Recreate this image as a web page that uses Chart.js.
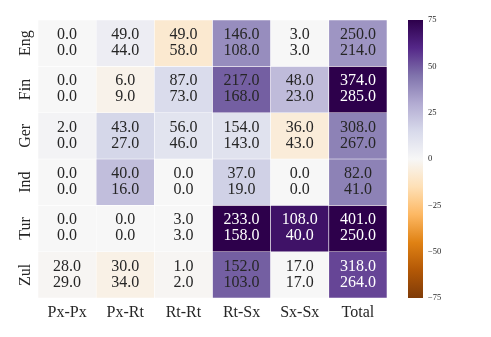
<!DOCTYPE html>
<html>
<head>
<meta charset="utf-8">
<script src="https://cdn.jsdelivr.net/npm/chart.js@4"></script>
<style>
  body { margin: 0; background: #fff; }
  #wrap { position: relative; width: 491px; height: 337px; }
  #main { position: absolute; left: 0; top: 0; width: 400px; height: 337px; }
  #bar { position: absolute; left: 400px; top: 0; width: 91px; height: 337px; }
</style>
</head>
<body>
<div id="wrap">
  <div id="main"><canvas id="heat"></canvas></div>
  <div id="bar"><canvas id="cbar"></canvas></div>
</div>
<script>
const rows = ["Eng", "Fin", "Ger", "Ind", "Tur", "Zul"];
const cols = ["Px-Px", "Px-Rt", "Rt-Rt", "Rt-Sx", "Sx-Sx", "Total"];

// upper number in each cell
const topVals = [
  [0, 49, 49, 146, 3, 250],
  [0, 6, 87, 217, 48, 374],
  [2, 43, 56, 154, 36, 308],
  [0, 40, 0, 37, 0, 82],
  [0, 0, 3, 233, 108, 401],
  [28, 30, 1, 152, 17, 318],
];
// lower number in each cell
const bottomVals = [
  [0, 44, 58, 108, 3, 214],
  [0, 9, 73, 168, 23, 285],
  [0, 27, 46, 143, 43, 267],
  [0, 16, 0, 19, 0, 41],
  [0, 0, 3, 158, 40, 250],
  [29, 34, 2, 103, 17, 264],
];
const colorTicks = [-75, -50, -25, 0, 25, 50, 75];

const vmin = -75;
const vmax = 75;
const puor = ["#7f3b08", "#b35806", "#e08214", "#fdb863", "#fee0b6", "#f7f7f7",
  "#d8daeb", "#b2abd2", "#8073ac", "#542788", "#2d004b"];

Chart.defaults.font.family = "'Liberation Serif', 'DejaVu Serif', serif";
Chart.defaults.color = "#262626";

function hexToRgb(h) {
  return [parseInt(h.slice(1, 3), 16), parseInt(h.slice(3, 5), 16), parseInt(h.slice(5, 7), 16)];
}

function cmap(v) {
  const c = Math.max(vmin, Math.min(vmax, v));
  const t = (c - vmin) / (vmax - vmin) * (puor.length - 1);
  const i = Math.min(Math.floor(t), puor.length - 2);
  const f = t - i;
  const a = hexToRgb(puor[i]);
  const b = hexToRgb(puor[i + 1]);
  const rgb = a.map((x, k) => Math.round(x + (b[k] - x) * f));
  return `rgb(${rgb[0]},${rgb[1]},${rgb[2]})`;
}

function diff(r, c) {
  return topVals[r][c] - bottomVals[r][c];
}

// one stacked dataset per row, each cell is one unit high
const datasets = rows.map((name, r) => ({
  label: name,
  data: cols.map(() => 1),
  backgroundColor: cols.map((c, j) => cmap(diff(r, j))),
  borderColor: "rgba(255,255,255,0.9)",
  borderWidth: 0.6,
  borderSkipped: false,
  barPercentage: 1,
  categoryPercentage: 1,
}));

const cellText = {
  id: "cellText",
  afterDatasetsDraw(chart) {
    const { ctx, scales: { x, y } } = chart;
    ctx.save();
    ctx.font = "16px 'Liberation Serif', serif";
    ctx.textAlign = "center";
    ctx.textBaseline = "middle";
    rows.forEach((name, r) => {
      cols.forEach((c, j) => {
        const px = x.getPixelForValue(j);
        const py = y.getPixelForValue(r + 0.5);
        ctx.fillStyle = diff(r, j) > 50 ? "#ffffff" : "#262626";
        ctx.fillText(topVals[r][j].toFixed(1), px, py - 8.5);
        ctx.fillText(bottomVals[r][j].toFixed(1), px, py + 7.5);
      });
    });
    ctx.restore();
  },
};

new Chart(document.getElementById("heat"), {
  type: "bar",
  data: { labels: cols, datasets },
  options: {
    responsive: true,
    maintainAspectRatio: false,
    animation: false,
    layout: { padding: { top: 20, right: 13, left: 0, bottom: 0 } },
    plugins: { legend: { display: false }, tooltip: { enabled: false } },
    scales: {
      x: {
        stacked: true,
        grid: { display: false, drawTicks: false },
        border: { display: false },
        ticks: { font: { size: 16 }, padding: 5, maxRotation: 0 },
        afterFit(scale) { scale.height = 39; },
      },
      y: {
        stacked: true,
        reverse: true,
        min: 0,
        max: 6,
        grid: { display: false, drawTicks: false },
        border: { display: false },
        afterBuildTicks(scale) {
          scale.ticks = rows.map((r, i) => ({ value: i + 0.5 }));
        },
        ticks: {
          font: { size: 16 },
          padding: -1,
          minRotation: 90,
          maxRotation: 90,
          crossAlign: "center",
          callback: (v) => rows[Math.floor(v)],
        },
        afterFit(scale) { scale.width = 38; },
      },
    },
  },
  plugins: [cellText],
});

// colour bar
new Chart(document.getElementById("cbar"), {
  type: "bar",
  data: {
    labels: [""],
    datasets: [{
      data: [[vmin, vmax]],
      backgroundColor(context) {
        const area = context.chart.chartArea;
        if (!area) return puor[5];
        const g = context.chart.ctx.createLinearGradient(0, area.bottom, 0, area.top);
        puor.forEach((c, i) => g.addColorStop(i / (puor.length - 1), c));
        return g;
      },
      borderWidth: 0,
      barPercentage: 1,
      categoryPercentage: 1,
    }],
  },
  options: {
    responsive: true,
    maintainAspectRatio: false,
    animation: false,
    layout: { padding: { top: 20, left: 8, right: 0, bottom: 39 } },
    plugins: { legend: { display: false }, tooltip: { enabled: false } },
    scales: {
      x: { display: false },
      y: {
        position: "right",
        min: vmin,
        max: vmax,
        grid: { display: false, drawTicks: false },
        border: { display: false },
        afterBuildTicks(scale) {
          scale.ticks = colorTicks.map((v) => ({ value: v }));
        },
        ticks: {
          font: { size: 8.5 },
          padding: 5,
          callback: (v) => String(v).replace("-", "\u2212"),
        },
        afterFit(scale) { scale.width = 68; },
      },
    },
  },
});
</script>
</body>
</html>
